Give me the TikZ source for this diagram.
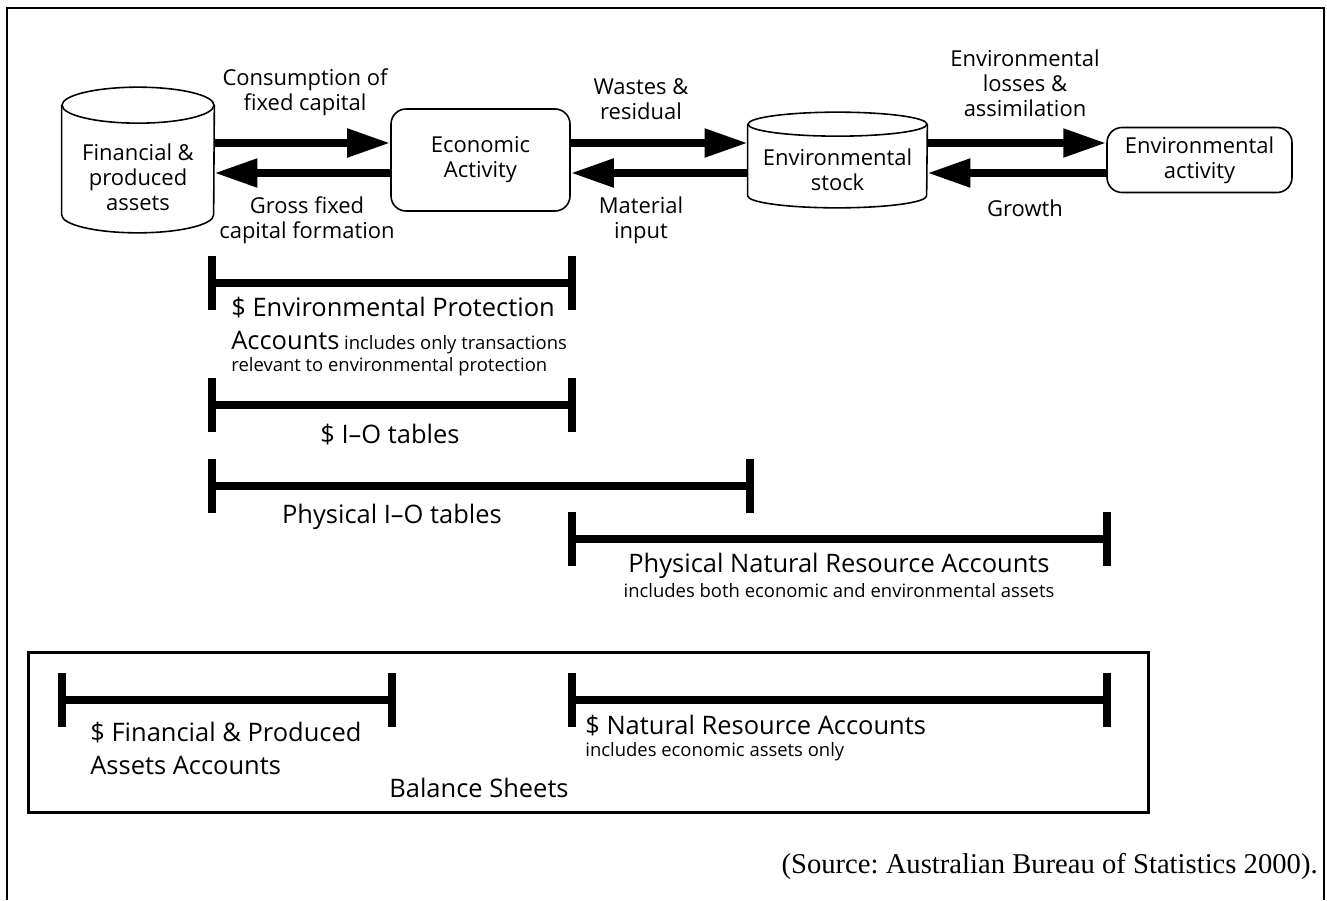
\documentclass[tikz,border=0pt]{standalone}
\usepackage{fontspec}
\setmainfont{Open Sans}
\newfontfamily\srcfont{Liberation Serif}
\usetikzlibrary{positioning,arrows.meta}
\frenchspacing

\tikzset{
  flow/.style={line width=0.16cm, -{Triangle[length=0.86cm,width=0.54cm]}},
  spanline/.style={line width=0.16cm},
  procbox/.style={draw, line width=0.9pt, rounded corners=0.3cm, inner sep=0pt},
  cylbody/.style={inner sep=0pt},
  lbl/.style={align=center, font=\fontsize{12.5}{14.2}\selectfont, inner sep=0pt},
  biglbl/.style={align=left, font=\fontsize{14.5}{17}\selectfont, inner sep=0pt},
  smalllbl/.style={font=\fontsize{10.5}{12}\selectfont, inner sep=0pt},
}

\begin{document}
\begin{tikzpicture}[x=0.02cm, y=-0.02cm]
  \newcommand\drawcyl[3]{
    \draw[line width=0.9pt] (#1.north west) -- (#1.south west)
      arc[start angle=180, end angle=360, x radius=#2, y radius=#3] -- (#1.north east);
    \draw[line width=0.9pt] (#1.north) ellipse[x radius=#2, y radius=#3];
  }
  \newcommand\drawspan[3]{
    \draw[spanline] (#1,#3) -- (#2,#3);
    \draw[spanline] (#1,#3-27) -- (#1,#3+27);
    \draw[spanline] (#2,#3-27) -- (#2,#3+27);
  }

  \useasboundingbox (0,0) rectangle (1327,900);
  % frame, open at the bottom
  \draw[line width=0.04cm] (7,900) -- (7,8) -- (1324,8) -- (1324,900);

  % stocks and activities
  \node[cylbody, minimum width=3.04cm, minimum height=2.18cm] (fin) at (138,160) {};
  \node[lbl] (fintext) at (138,177) {Financial \&\\produced\\assets};
  \node[procbox, lbl, minimum width=3.58cm, minimum height=2.04cm] (econ) at (480.5,160) {Economic\\Activity};
  \node[cylbody, minimum width=3.58cm, minimum height=1.42cm] (stock) at (837.5,160) {};
  \node[lbl] (stocktext) at (837.5,170) {Environmental\\stock};
  \node[procbox, lbl, minimum width=3.7cm, minimum height=1.3cm] (envact) at (1199.5,160) {Environmental\\activity};

  \drawcyl{fin}{1.52cm}{0.36cm}
  \drawcyl{stock}{1.79cm}{0.24cm}
  %
  \draw[flow] ([yshift=0.34cm]fin.east) -- ([yshift=0.34cm]econ.west);
  \draw[flow] ([yshift=-0.26cm]econ.west) -- ([yshift=-0.26cm]fin.east);
  \draw[flow] ([yshift=0.34cm]econ.east) -- ([yshift=0.34cm]stock.west);
  \draw[flow] ([yshift=-0.26cm]stock.west) -- ([yshift=-0.26cm]econ.east);
  \draw[flow] ([yshift=0.34cm]stock.east) -- ([yshift=0.34cm]envact.west);
  \draw[flow] ([yshift=-0.26cm]envact.west) -- ([yshift=-0.26cm]stock.east);
  %
  \node[lbl] (cfc) at (305,92.5) {Consumption of\\fixed capital};
  \node[lbl] (gfcf) at (307,220.5) {Gross fixed\\capital formation};
  \node[lbl] (waste) at (641,99.5) {Wastes \&\\residual};
  \node[lbl] (matin) at (641,220) {Material\\input};
  \node[lbl] (loss) at (1025,83) {Environmental\\losses \&\\assimilation};
  \node[lbl] (growth) at (1025,208) {Growth};

  % account spans
  \drawspan{212}{572}{283}
  \drawspan{212}{572}{405}
  \drawspan{212}{750}{486}
  \drawspan{572}{1107}{539}
  \drawspan{62}{392}{700}
  \drawspan{572}{1107}{700}
%
  \node[biglbl, anchor=west] (epa) at (231,308) {\$ Environmental Protection};
  \node[anchor=west, inner sep=0pt] (epaacc) at (231,343) {{\fontsize{14.5}{17}\selectfont Accounts} {\fontsize{10.5}{12}\selectfont includes only transactions}};
  \node[smalllbl, anchor=west] (epanote) at (231,367) {relevant to environmental protection};
  \node[biglbl] (ioa) at (390,435) {\$ I--O tables};
  \node[biglbl] (pio) at (392,517) {Physical I--O tables};
  \node[biglbl] (pnra) at (839,566) {Physical Natural Resource Accounts};
  \node[smalllbl] (pnranote) at (839,591) {includes both economic and environmental assets};

  % balance sheets
  \draw[line width=0.06cm] (28,652) rectangle (1148,812);
  \node[biglbl, anchor=west, font=\fontsize{14.5}{18.8}\selectfont] (fpa) at (90,748) {\$ Financial \& Produced\\Assets Accounts};
  \node[biglbl, anchor=west] (nra) at (585,726) {\$ Natural Resource Accounts};
  \node[smalllbl, anchor=west] (nranote) at (585,752) {includes economic assets only};
  \node[biglbl] (bal) at (479,788) {Balance Sheets};

  \node[anchor=east, inner sep=0pt, font=\srcfont\fontsize{16.3}{19}\selectfont] (src) at (1318,866) {(Source: Australian Bureau of Statistics 2000).};
\end{tikzpicture}
\end{document}
